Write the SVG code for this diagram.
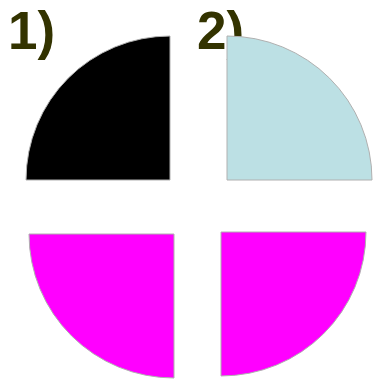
<svg xmlns="http://www.w3.org/2000/svg" width="373" height="379" viewBox="0 0 373 379">
<style>
.lbl{font-family:"Liberation Sans",Arial,sans-serif;font-weight:bold;font-size:53px;fill:#333300}
.q{stroke:#b0b0b0;stroke-width:1}
</style>
<rect width="373" height="379" fill="#ffffff"/>
<g id="label1"><text class="lbl" x="8" y="49">1)</text></g>
<g id="label2"><text class="lbl" x="197" y="49">2)</text></g>
<g id="q1"><path class="q" d="M170,180 H26 A144,144 0 0 1 170,36 Z" fill="#000000"/></g>
<g id="q2"><path class="q" d="M227,180 V36 A145,144 0 0 1 372,180 Z" fill="#bce0e4"/></g>
<g id="q3"><path class="q" d="M174,234 H29 A145,144 0 0 0 174,378 Z" fill="#ff00ff"/></g>
<g id="q4"><path class="q" d="M221,232 V376 A145,144 0 0 0 366,232 Z" fill="#ff00ff"/></g>
<g id="connectors"></g>
</svg>
